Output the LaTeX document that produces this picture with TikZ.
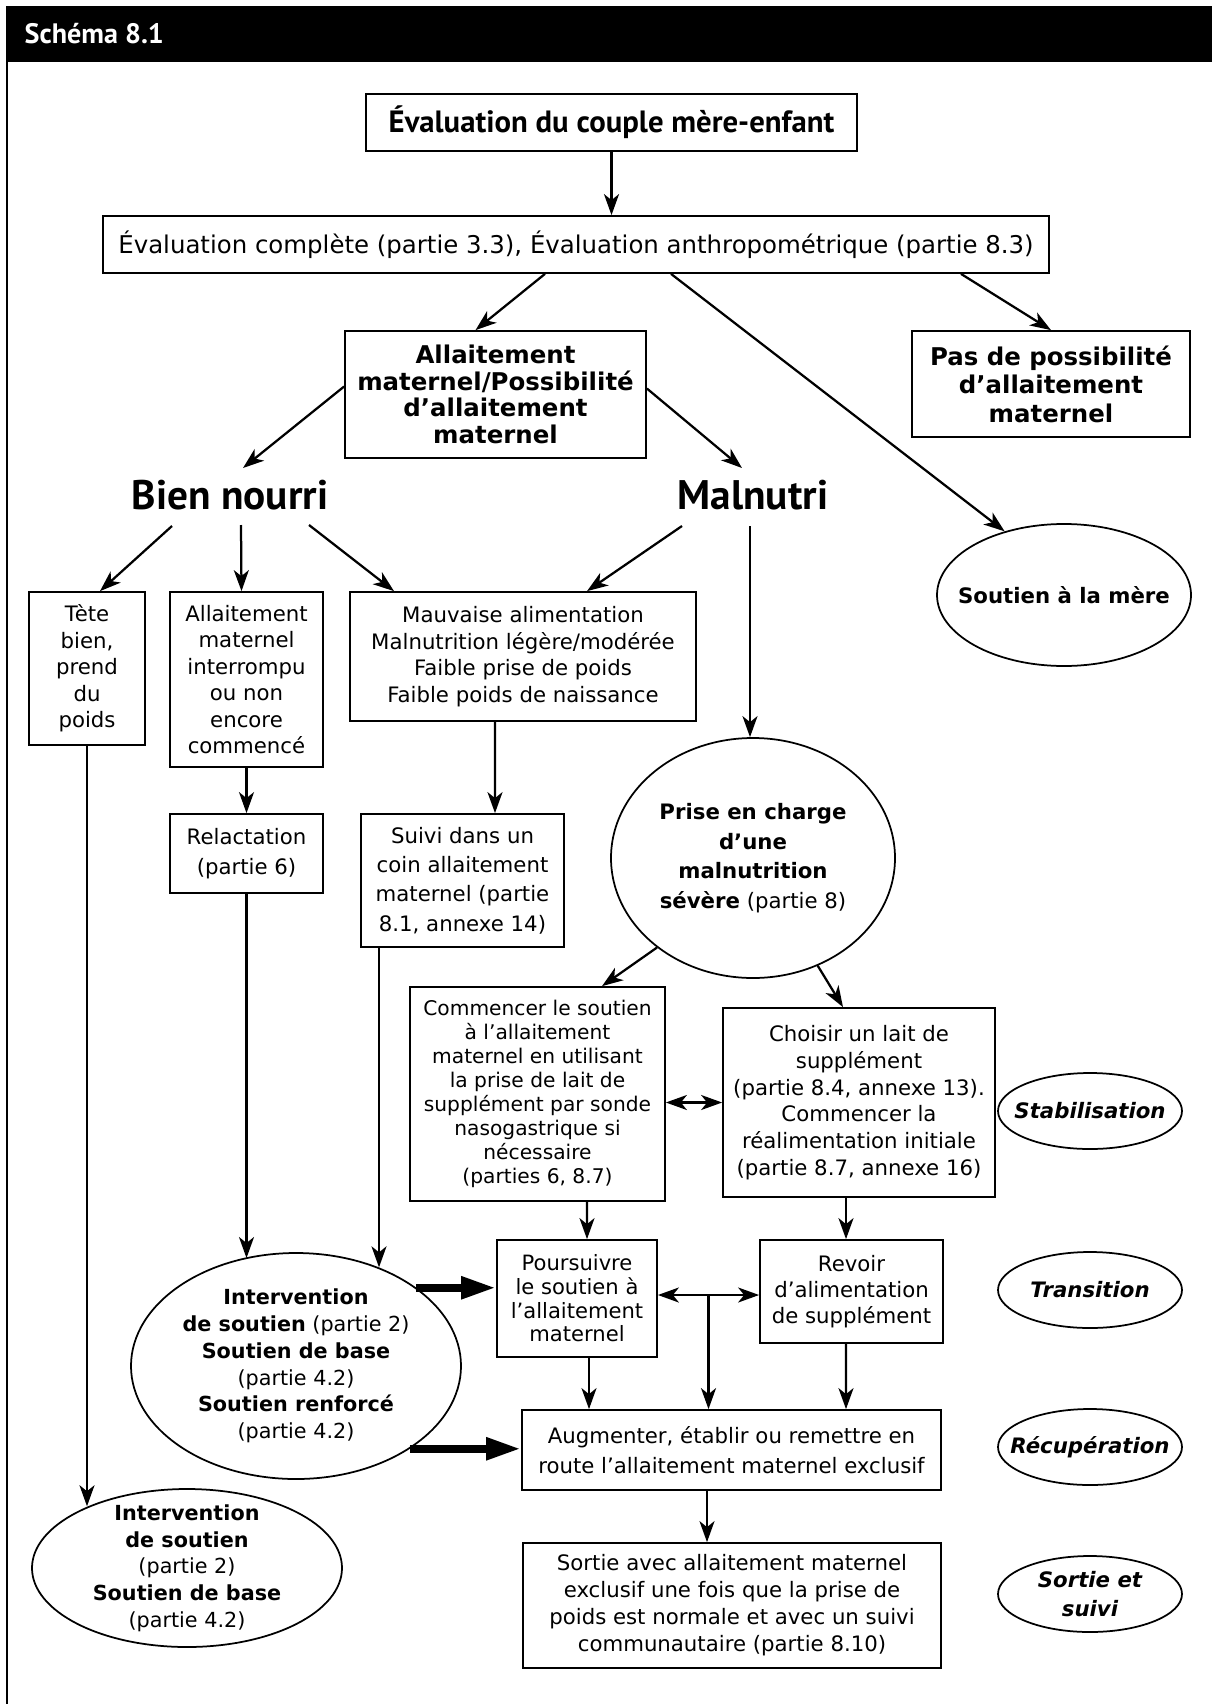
\documentclass[tikz,border=0pt]{standalone}
\usepackage{fontspec}
\setmainfont{DejaVu Sans}
\newfontfamily\headfont{PT Sans}
\usetikzlibrary{calc, positioning}
\usetikzlibrary{arrows.meta}
\usetikzlibrary{shapes.geometric}

\begin{document}
\begin{tikzpicture}[x=0.2mm, y=-0.2mm, line width=0.35mm,
  box/.style 2 args={draw, align=center, inner sep=1pt, minimum width=#1*0.2mm, minimum height=#2*0.2mm},
  bubble/.style 2 args={draw, ellipse, align=center, inner xsep=-4mm, inner ysep=-2mm, minimum width=#1*0.2mm, minimum height=#2*0.2mm},
  txt/.style 2 args={font=\fontsize{#1}{#2}\selectfont},
  btxt/.style 2 args={font=\fontsize{#1}{#2}\selectfont\bfseries},
  head/.style={font=\headfont\bfseries\fontsize{#1}{#1}\selectfont},
  phase/.style={bubble={184}{76}, font=\fontsize{12.1}{16.7}\selectfont\bfseries\itshape},
  arr/.style={line width=0.45mm, -{Stealth[length=4.2mm, width=3mm, inset=1.2mm]}},
  twin/.style={line width=0.45mm, {Stealth[length=4.2mm, width=3mm, inset=1.2mm]}-{Stealth[length=4.2mm, width=3mm, inset=1.2mm]}},
  fat/.style={line width=1.6mm, -{Triangle[length=7mm, width=4.2mm]}}]
\useasboundingbox (0,0) rectangle (1212,1704);

\fill (6,6) rectangle (1212,62);
\draw (7,62) -- (7,1704);
\node[anchor=west, text=white, head={16}] (Title) at (18,34) {Schéma 8.1};

\node[box={491}{57}, head={17.5}] (Eval) at (611.5,122.5) {Évaluation du couple mère-enfant};
\node[box={946}{57}, txt={13.9}{15.2}] (EvalFull) at (576,244.5) {Évaluation complète (partie 3.3), Évaluation anthropométrique (partie 8.3)};
\node[box={301}{127}, btxt={13.9}{15.2}] (BF) at (495.5,394.5) {Allaitement\\maternel/Possibilité\\d’allaitement\\maternel};
\node[box={278}{106}, btxt={13.9}{16.2}] (NoBF) at (1051,384) {Pas de possibilité\\d’allaitement\\maternel};

\node[head={23.5}] (Well) at (230,495) {Bien nourri};
\node[head={23.5}] (Mal) at (753,495) {Malnutri};
\node[bubble={254}{142}, btxt={12.1}{15.2}] (Mother) at (1064,595) {Soutien à la mère};

\node[box={116}{153}, txt={12.1}{15.1}] (Thrive) at (87,668.5) {Tète\\bien,\\prend\\du\\poids};
\node[box={153}{175}, txt={12.1}{15.1}] (Stopped) at (246.5,679.5) {Allaitement\\maternel\\interrompu\\ou non\\encore\\commencé};
\node[box={346}{129}, txt={12.1}{15.2}] (Poor) at (523,656.5) {Mauvaise alimentation\\Malnutrition légère/modérée\\Faible prise de poids\\Faible poids de naissance};
\node[box={153}{79}, txt={12.1}{17}] (Relact) at (246.5,853.5) {Relactation\\(partie 6)};
\node[box={203}{133}, txt={12.1}{16.7}] (Corner) at (462.5,880.5) {Suivi dans un\\coin allaitement\\maternel (partie\\8.1, annexe 14)};
\node[bubble={284}{240}, txt={12.1}{16.8}] (Severe) at (753,858) {\textbf{Prise en charge}\\\textbf{d’une}\\\textbf{malnutrition}\\\textbf{sévère} (partie 8)};

\node[box={255}{214}, txt={11.5}{13.7}] (StartBF) at (537.5,1094) {Commencer le soutien\\à l’allaitement\\maternel en utilisant\\la prise de lait de\\supplément par sonde\\nasogastrique si\\nécessaire\\(parties 6, 8.7)};
\node[box={272}{189}, txt={12.1}{15.2}] (Choose) at (859,1102.5) {Choisir un lait de\\supplément\\(partie 8.4, annexe 13).\\Commencer la\\réalimentation initiale\\(partie 8.7, annexe 16)};
\node[box={160}{117}, txt={12}{13.5}] (KeepBF) at (577,1298.5) {Poursuivre\\le soutien à\\l’allaitement\\maternel};
\node[box={183}{103}, txt={12.1}{14.8}] (Review) at (851.5,1291.5) {Revoir\\d’alimentation\\de supplément};
\node[box={419}{80}, txt={12.1}{17}] (Exclusive) at (731.5,1450) {Augmenter, établir ou remettre en\\route l’allaitement maternel exclusif};
\node[box={418}{125}, txt={12.1}{15.4}] (Exit) at (732,1605.5) {Sortie avec allaitement maternel\\exclusif une fois que la prise de\\poids est normale et avec un suivi\\communautaire (partie 8.10)};

\node[bubble={330}{226}, txt={11.8}{15.2}] (Support) at (296,1366) {\textbf{Intervention}\\\textbf{de soutien} (partie 2)\\\textbf{Soutien de base}\\(partie 4.2)\\\textbf{Soutien renforcé}\\(partie 4.2)};
\node[bubble={310}{158}, txt={11.8}{15.2}] (SupportBase) at (187,1568) {\textbf{Intervention}\\\textbf{de soutien}\\(partie 2)\\\textbf{Soutien de base}\\(partie 4.2)};

\node[phase] (PhStab) at (1090,1111) {Stabilisation};
\node[phase] (PhTrans) at (1090,1290) {Transition};
\node[phase] (PhRecov) at (1090,1447) {Récupération};
\node[phase] (PhExit) at (1090,1594) {Sortie et\\suivi};

\draw[arr] (Eval.south) -- (Eval.south |- EvalFull.north);
\draw[arr] ($(EvalFull.south)+(-31,0)$) -- ($(BF.north)+(-20,0)$);
\draw[arr] ($(EvalFull.south)+(95,0)$) -- (Mother.133);
\draw[arr] ($(EvalFull.south)+(385,0)$) -- (NoBF.north);
\draw[arr] ($(BF.west)+(0,-8)$) -- ($(Well)+(13,-27)$);
\draw[arr] ($(BF.east)+(0,-6)$) -- ($(Mal)+(-11,-27)$);
\draw[arr] ($(Well)+(-58,31)$) -- ($(Thrive.north)+(13,0)$);
\draw[arr] ($(Well)+(11,30)$) -- ($(Stopped.north)+(-5,0)$);
\draw[arr] ($(Well)+(79,30)$) -- ($(Poor.north)+(-129,0)$);
\draw[arr] ($(Mal)+(-71,31)$) -- ($(Poor.north)+(64,0)$);
\draw[arr] ($(Mal)+(-3,31)$) -- ($(Severe.north)+(-3,0)$);
\draw[arr] (Stopped.south) -- (Relact.north);
\draw[arr] ($(Poor.south)+(-28,0)$) -- ($(Corner.north)+(32.5,0)$);
\draw[arr] (Severe.223) -- ($(StartBF.north)+(64.5,0)$);
\draw[arr] (Severe.301) -- ($(Choose.north)+(-16,0)$);
\draw[twin] (Choose.west -| StartBF.east) -- (Choose.west);
\draw[arr] ($(StartBF.south)+(49.5,0)$) -- ($(KeepBF.north)+(10,0)$);
\draw[arr] ($(Choose.south)+(-13,0)$) -- ($(Review.north)+(-5.5,0)$);
\coordinate (Split) at ($(KeepBF.east)!0.5!(Review.west)$);
\draw[twin] (Split -| KeepBF.east) -- (Split -| Review.west);
\draw[arr] (Split) -- (Split |- Exclusive.north);
\draw[arr] ($(KeepBF.south)+(12,0)$) -- ($(Exclusive.north)+(-142.5,0)$);
\draw[arr] ($(Review.south)+(-5.5,0)$) -- ($(Exclusive.north)+(114.5,0)$);
\draw[arr] ($(Exclusive.south)+(-24.5,0)$) -- ($(Exit.north)+(-25,0)$);
\draw[arr] (Thrive.south) -- (Thrive.south |- SupportBase.148);
\draw[arr] (Relact.south) -- (Relact.south |- Support.116);
\coordinate (CornerOut) at ($(Corner.south)+(-83.5,0)$);
\draw[arr] (CornerOut) -- (CornerOut |- Support.50);
\draw[fat] (Support.33) -- (Support.33 -| KeepBF.west);
\draw[fat] (Support.-36) -- (Support.-36 -| Exclusive.west);
\end{tikzpicture}
\end{document}
